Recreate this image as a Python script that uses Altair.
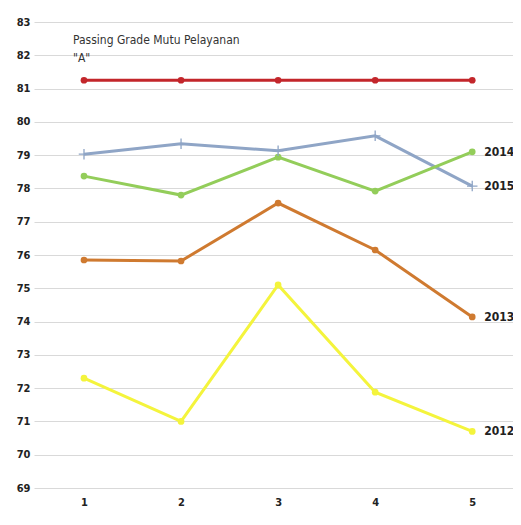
import altair as alt
import pandas as pd

points = [1, 2, 3, 4, 5]
passing_grade = [81.25, 81.25, 81.25, 81.25, 81.25]
y2015 = [79.03, 79.34, 79.13, 79.58, 78.07]
y2014 = [78.37, 77.80, 78.94, 77.92, 79.10]
y2013 = [75.85, 75.82, 77.56, 76.15, 74.14]
y2012 = [72.30, 71.00, 75.10, 71.88, 70.70]

series_names = ["A", "2015", "2014", "2013", "2012"]
series_values = [passing_grade, y2015, y2014, y2013, y2012]
series_colors = ["#C3262B", "#8FA5C6", "#93CD5A", "#CF7A30", "#F4F43C"]
y_ticks = list(range(69, 84))

rows = []
for name, vals in zip(series_names, series_values):
    for p, v in zip(points, vals):
        rows.append({"point": p, "value": v, "series": name})
df = pd.DataFrame(rows)

FONT = "DejaVu Sans Condensed, Liberation Sans Narrow, Liberation Sans, sans-serif"

color = alt.Color("series:N", scale=alt.Scale(domain=series_names, range=series_colors), legend=None)

x = alt.X("point:Q", scale=alt.Scale(domain=[0.485, 5.42], nice=False, zero=False),
          axis=alt.Axis(values=points, format="d", grid=False, domain=False, ticks=False, labelFontSize=11,
                        labelFont=FONT, labelColor="#222", labelFontWeight="bold", labelPadding=8,
                        labelOverlap=False, title=None))
y = alt.Y("value:Q", scale=alt.Scale(domain=[69, 83], nice=False, zero=False),
          axis=alt.Axis(values=y_ticks, format="d", grid=True, gridColor="#D9D9D9", gridWidth=1.2, domain=False,
                        ticks=False, labelFontSize=11, labelFont=FONT, labelColor="#222",
                        labelFontWeight="bold", labelPadding=4, labelOverlap=False, title=None))

base = alt.Chart(df)

lines = base.mark_line(strokeWidth=3).encode(x=x, y=y, color=color, detail="series:N")

dots = base.transform_filter(alt.datum.series != "2015").mark_circle(size=45, opacity=1).encode(
    x=x, y=y, color=color)

crosses = base.transform_filter(alt.datum.series == "2015").mark_point(
    shape="M-1,0L1,0M0,-1L0,1", size=110, filled=False, strokeWidth=1.3, opacity=1).encode(
    x=x, y=y, color=color)

end_labels = base.transform_filter(
    (alt.datum.point == 5) & (alt.datum.series != "A")
).mark_text(align="left", dx=12, fontSize=12, font=FONT, fontWeight="bold", color="#222").encode(
    x=x, y=y, text="series:N")

ann = pd.DataFrame({"point": [1, 1], "value": [82.47, 81.92],
                    "text": ["Passing Grade Mutu Pelayanan", '"A"']})
annotation = alt.Chart(ann).mark_text(align="left", dx=-11, fontSize=12, font=FONT,
                                      color="#333").encode(
    x=x, y=y, text="text:N")

chart = alt.layer(lines, dots, crosses, end_labels, annotation).properties(
    width=479, height=466,
    autosize=alt.AutoSizeParams(type="none"),
    padding={"left": 26, "top": 14, "right": 0, "bottom": 24},
    background="white",
).configure_view(stroke=None).configure_axis(labelOverlap=False)

chart.save("out.html", embed_options={"renderer": "svg", "actions": False})
